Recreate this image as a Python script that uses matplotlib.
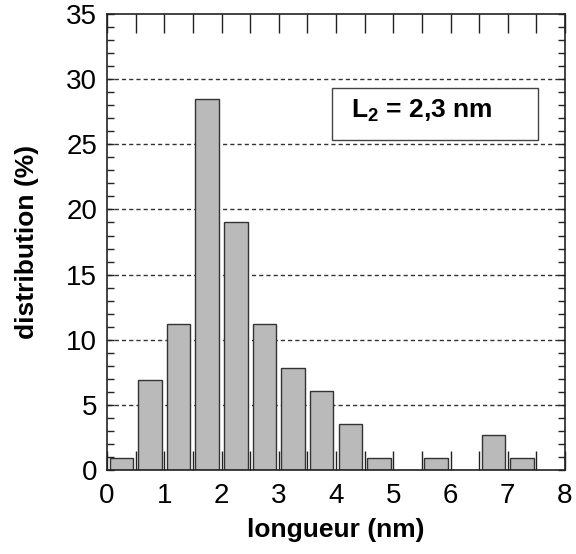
import matplotlib
matplotlib.use("Agg")
import matplotlib.pyplot as plt
from matplotlib.patches import Rectangle
from matplotlib.ticker import MultipleLocator, FuncFormatter

# Histogram data
centres = [0.25, 0.75, 1.25, 1.75, 2.25, 2.75, 3.25, 3.75, 4.25, 4.75, 5.25, 5.75, 6.25, 6.75, 7.25]
values = [0.9, 6.9, 11.2, 28.5, 19.0, 11.2, 7.8, 6.1, 3.5, 0.9, 0.0, 0.9, 0.0, 2.7, 0.9]
grid_levels = [5, 10, 15, 20, 25, 30]

plt.rcParams['font.family'] = ['Liberation Sans', 'DejaVu Sans']
plt.rcParams['mathtext.fontset'] = 'custom'
plt.rcParams['mathtext.bf'] = 'Liberation Sans:bold'
plt.rcParams['mathtext.rm'] = 'Liberation Sans'

fig = plt.figure(figsize=(5.76, 5.54), dpi=100)
ax = fig.add_axes([0.1858, 0.1516, 0.7951, 0.8231])

# dashed reference lines behind the bars
for lv in grid_levels:
    ax.axhline(lv, color='#333333', lw=1.0, ls=(0, (3, 2.2)), zorder=0)

ax.bar(centres, values, width=0.41, color='#bababa', edgecolor='#333333',
       linewidth=1.0, zorder=2)

ax.set_xlim(0, 8)
ax.set_ylim(0, 35)

ax.xaxis.set_major_locator(MultipleLocator(0.5))
ax.xaxis.set_major_formatter(FuncFormatter(lambda v, p: f"{int(v)}" if v == int(v) else ""))
ax.yaxis.set_major_locator(MultipleLocator(5))
ax.yaxis.set_minor_locator(MultipleLocator(1))

ax.tick_params(axis='x', which='major', direction='in', length=14, width=1.0,
               top=True, bottom=True, labelsize=20, pad=9, color='#222222')
ax.tick_params(axis='y', which='major', direction='in', length=5, width=1.0,
               left=True, right=True, labelsize=20, pad=7, color='#222222')
ax.tick_params(axis='y', which='minor', direction='in', length=5, width=1.0,
               left=True, right=True, color='#222222')

for s in ax.spines.values():
    s.set_linewidth(1.2)
    s.set_color('#222222')

ax.set_xlabel('longueur (nm)', fontsize=19, fontweight='bold', labelpad=7)
ax.set_ylabel('distribution (%)', fontsize=19, fontweight='bold', labelpad=20)

# annotation box
ax.add_patch(Rectangle((3.93, 25.33), 3.6, 3.99, facecolor='white',
                       edgecolor='#444444', lw=1.0, zorder=4))
ax.text(4.26, 27.0, r'$\mathbf{L_2}$' + ' = 2,3 nm', fontsize=19, fontweight='bold',
        ha='left', va='baseline', zorder=5)

fig.savefig('out.png', dpi=100)
